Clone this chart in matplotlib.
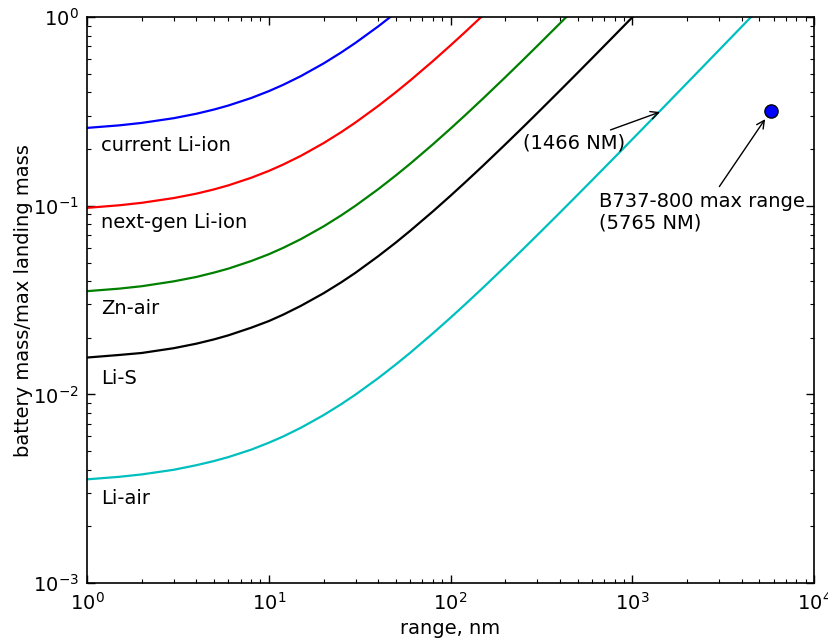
import matplotlib
matplotlib.use("Agg")
import matplotlib.pyplot as plt

# values (range in nm, battery mass fraction)
x_li_ion = [1, 1.5, 2, 3, 4, 5, 6, 8, 10, 12, 15, 20, 25, 30, 40, 50]
y_li_ion = [0.259, 0.2671, 0.2753, 0.2916, 0.3079, 0.3242, 0.3405, 0.3730, 0.4056,
            0.4382, 0.4871, 0.5685, 0.6500, 0.7314, 0.8943, 1.0572]

x_next = [1, 1.5, 2, 3, 4, 5, 6, 8, 10, 12, 15, 20, 25, 30, 40, 50, 60, 80, 100, 120, 150]
y_next = [0.0976, 0.1007, 0.1038, 0.1100, 0.1161, 0.1223, 0.1285, 0.1409, 0.1532,
          0.1656, 0.1841, 0.2150, 0.2459, 0.2768, 0.3386, 0.4004, 0.4622, 0.5858,
          0.7094, 0.8330, 1.0184]

x_zn = [1, 1.5, 2, 3, 4, 5, 6, 8, 10, 12, 15, 20, 25, 30, 40, 50, 60, 80, 100, 120,
        150, 200, 250, 300, 400, 450]
y_zn = [0.0353, 0.0364, 0.0375, 0.0398, 0.0420, 0.0443, 0.0465, 0.0510, 0.0554,
        0.0599, 0.0666, 0.0778, 0.0890, 0.1002, 0.1226, 0.1450, 0.1673, 0.2121,
        0.2569, 0.3016, 0.3688, 0.4807, 0.5926, 0.7045, 0.9283, 1.0402]

x_lis = [1, 1.5, 2, 3, 4, 5, 6, 8, 10, 12, 15, 20, 25, 30, 40, 50, 60, 80, 100, 120,
         150, 200, 250, 300, 400, 500, 600, 800, 1000, 1100]
y_lis = [0.0157, 0.0162, 0.0166, 0.0176, 0.0186, 0.0196, 0.0206, 0.0226, 0.0245,
         0.0265, 0.0295, 0.0344, 0.0393, 0.0442, 0.0541, 0.0639, 0.0738, 0.0935,
         0.1132, 0.1329, 0.1624, 0.2117, 0.2609, 0.3102, 0.4087, 0.5072, 0.6057,
         0.8027, 0.9997, 1.0982]

x_liair = [1, 1.5, 2, 3, 4, 5, 6, 8, 10, 12, 15, 20, 25, 30, 40, 50, 60, 80, 100, 120,
           150, 200, 250, 300, 400, 500, 600, 800, 1000, 1200, 1500, 2000, 2500, 3000,
           4000, 4500]
y_liair = [0.00355, 0.00366, 0.00377, 0.00399, 0.00422, 0.00444, 0.00466, 0.00510,
           0.00555, 0.00599, 0.00666, 0.00777, 0.00888, 0.00999, 0.01221, 0.01443,
           0.01665, 0.02110, 0.02554, 0.02998, 0.03664, 0.04775, 0.05885, 0.06996,
           0.09217, 0.1144, 0.1366, 0.1810, 0.2254, 0.2698, 0.3365, 0.4475, 0.5586,
           0.6696, 0.8917, 1.0028]

labels = ["current Li-ion", "next-gen Li-ion", "Zn-air", "Li-S", "Li-air"]
label_y = [0.21, 0.082, 0.0287, 0.0121, 0.0028]
colors = ["#0000ff", "#ff0000", "#008000", "#000000", "#00bfbf"]

b737_range = 5765
b737_frac = 0.318
liair_range = 1466

plt.rcParams['font.size'] = 14

fig = plt.figure(figsize=(8.29, 6.38), dpi=100)
ax = fig.add_axes([0.105, 0.086, 0.877, 0.887])

series = [(x_li_ion, y_li_ion), (x_next, y_next), (x_zn, y_zn), (x_lis, y_lis), (x_liair, y_liair)]
for (xs, ys), c, lab, ly in zip(series, colors, labels, label_y):
    ax.plot(xs, ys, color=c, linewidth=1.6)
    ax.text(1.19, ly, lab, ha='left', va='center', fontsize=14)

ax.plot([b737_range], [b737_frac], 'o', color='#0000ff', markeredgecolor='black',
        markersize=9.5)

ax.annotate("(1466 NM)", xy=(liair_range, b737_frac), xytext=(250, 0.215),
            ha='left', va='center', fontsize=14,
            arrowprops=dict(arrowstyle='->', color='black', lw=1))
ax.annotate("B737-800 max range\n(5765 NM)", xy=(b737_range, b737_frac),
            xytext=(656, 0.0926), ha='left', va='center', fontsize=14,
            arrowprops=dict(arrowstyle='->', color='black', lw=1, shrinkB=7))

ax.set_xscale('log')
ax.set_yscale('log')
ax.set_xlim(1, 1e4)
ax.set_ylim(1e-3, 1)
ax.set_xlabel("range, nm", labelpad=4)
ax.set_ylabel("battery mass/max landing mass", labelpad=0)

ax.tick_params(which='both', direction='in', top=True, right=True, labelsize=14)
ax.tick_params(which='major', length=6, width=1, pad=6)
ax.tick_params(which='minor', length=3, width=0.8)
for s in ax.spines.values():
    s.set_linewidth(1.2)

fig.savefig("out.png", dpi=100)
